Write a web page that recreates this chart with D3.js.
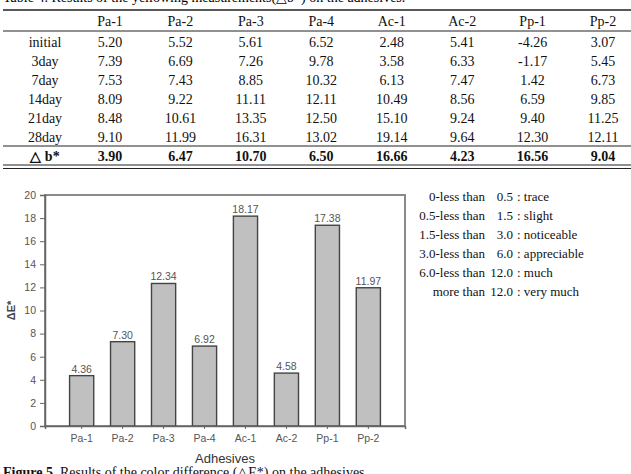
<!DOCTYPE html>
<html>
<head>
<meta charset="utf-8">
<script src="https://cdn.jsdelivr.net/npm/d3@7"></script>
<style>
  body { margin: 0; background: #fff; }
  svg { display: block; }
</style>
</head>
<body>
<script>
// table data
const adhesives = ["Pa-1", "Pa-2", "Pa-3", "Pa-4", "Ac-1", "Ac-2", "Pp-1", "Pp-2"];
const periods = ["initial", "3day", "7day", "14day", "21day", "28day"];
const yellowing = [
  ["5.20", "5.52", "5.61", "6.52", "2.48", "5.41", "-4.26", "3.07"],
  ["7.39", "6.69", "7.26", "9.78", "3.58", "6.33", "-1.17", "5.45"],
  ["7.53", "7.43", "8.85", "10.32", "6.13", "7.47", "1.42", "6.73"],
  ["8.09", "9.22", "11.11", "12.11", "10.49", "8.56", "6.59", "9.85"],
  ["8.48", "10.61", "13.35", "12.50", "15.10", "9.24", "9.40", "11.25"],
  ["9.10", "11.99", "16.31", "13.02", "19.14", "9.64", "12.30", "12.11"]
];
const deltaB = ["3.90", "6.47", "10.70", "6.50", "16.66", "4.23", "16.56", "9.04"];

// chart data
const deltaE = [4.36, 7.30, 12.34, 6.92, 18.17, 4.58, 17.38, 11.97];
const yTicks = [0, 2, 4, 6, 8, 10, 12, 14, 16, 18, 20];

// colour difference scale
const legendRows = [
  ["0-less than", "0.5", "trace"],
  ["0.5-less than", "1.5", "slight"],
  ["1.5-less than", "3.0", "noticeable"],
  ["3.0-less than", "6.0", "appreciable"],
  ["6.0-less than", "12.0", "much"],
  ["more than", "12.0", "very much"]
];

const W = 631, H = 474;
const serif = "'Liberation Serif', 'Times New Roman', serif";
const sans = "'Liberation Sans', Arial, sans-serif";

const svg = d3.select("body").append("svg")
  .attr("width", W).attr("height", H);

// ---- table ----
svg.append("text")
  .attr("x", 3).attr("y", 2)
  .style("font-family", serif).style("font-size", "14px")
  .text("Table 4. Results of the yellowing measurements(△b*) on the adhesives.");

const colX = d3.scalePoint().domain(adhesives).range([110, 603]);
const rowY = d3.scalePoint().domain(periods).range([42, 137]);
const labelX = 45;

const rule = (y, w) => svg.append("line")
  .attr("x1", 3).attr("x2", W).attr("y1", y).attr("y2", y)
  .attr("stroke", "#222").attr("stroke-width", w);

rule(10, 1.6);
rule(31, 1);
rule(146, 1);
rule(165, 1.2);
rule(168.5, 1.2);

const tbl = svg.append("g")
  .style("font-family", serif).style("font-size", "14px").attr("fill", "#111");

tbl.selectAll(".hdr").data(adhesives).join("text")
  .attr("x", d => colX(d)).attr("y", 26)
  .attr("text-anchor", "middle").text(d => d);

periods.forEach((p, i) => {
  tbl.append("text").attr("x", labelX).attr("y", rowY(p) + 5)
    .attr("text-anchor", "middle").text(p);
  tbl.selectAll(null).data(yellowing[i]).join("text")
    .attr("x", (d, j) => colX(adhesives[j])).attr("y", rowY(p) + 5)
    .attr("text-anchor", "middle").text(d => d);
});

tbl.append("text").attr("x", labelX).attr("y", 161)
  .attr("text-anchor", "middle").style("font-weight", "bold").text("△ b*");
tbl.selectAll(".db").data(deltaB).join("text")
  .attr("x", (d, j) => colX(adhesives[j])).attr("y", 161)
  .attr("text-anchor", "middle").style("font-weight", "bold").text(d => d);

// ---- bar chart ----
const plot = { left: 45, right: 405, top: 195, bottom: 426 };

const x = d3.scaleBand().domain(adhesives)
  .range([plot.left, plot.right]).paddingInner(0.41).paddingOuter(0.6);
const y = d3.scaleLinear().domain([0, 20]).range([plot.bottom, plot.top]);

const chart = svg.append("g").style("font-family", sans);

// frame
chart.append("rect")
  .attr("x", plot.left).attr("y", plot.top)
  .attr("width", plot.right - plot.left).attr("height", plot.bottom - plot.top)
  .attr("fill", "none").attr("stroke", "#8a8a8a").attr("stroke-width", 2);

chart.selectAll(".bar").data(deltaE).join("rect")
  .attr("x", (d, i) => x(adhesives[i]))
  .attr("y", d => y(d))
  .attr("width", x.bandwidth())
  .attr("height", d => y(0) - y(d))
  .attr("fill", "#c0c0c0").attr("stroke", "#444").attr("stroke-width", 1.4);

chart.selectAll(".val").data(deltaE).join("text")
  .attr("x", (d, i) => x(adhesives[i]) + x.bandwidth() / 2)
  .attr("y", d => y(d) - 3)
  .attr("text-anchor", "middle")
  .style("font-size", "10.5px").attr("fill", "#555")
  .text(d => d.toFixed(2));

const yAxis = chart.append("g")
  .attr("transform", `translate(${plot.left},0)`)
  .call(d3.axisLeft(y).tickValues(yTicks).tickSize(5).tickPadding(4));
yAxis.select(".domain").attr("stroke", "#666").attr("stroke-width", 1.5);
yAxis.selectAll(".tick line").attr("stroke", "#666");
yAxis.selectAll(".tick text").style("font-size", "10.5px").attr("fill", "#555")
  .style("font-family", sans);

const xAxis = chart.append("g")
  .attr("transform", `translate(0,${plot.bottom})`)
  .call(d3.axisBottom(x).tickSize(3).tickPadding(6));
xAxis.select(".domain").attr("stroke", "#666").attr("stroke-width", 1.5);
xAxis.selectAll(".tick line").attr("stroke", "#666");
xAxis.selectAll(".tick text").style("font-size", "10.5px").attr("fill", "#555")
  .style("font-family", sans);

chart.append("text")
  .attr("x", 225).attr("y", 463)
  .attr("text-anchor", "middle")
  .style("font-size", "13px").attr("fill", "#333")
  .text("Adhesives");

chart.append("text")
  .attr("transform", `translate(15,${(plot.top + plot.bottom) / 2}) rotate(-90)`)
  .attr("text-anchor", "middle")
  .style("font-size", "11px").style("font-weight", "bold").attr("fill", "#444")
  .text("ΔE*");

// ---- legend ----
const leg = svg.append("g")
  .style("font-family", serif).style("font-size", "13px").attr("fill", "#111");
const legY = d3.scalePoint().domain(d3.range(legendRows.length)).range([201, 296]);

leg.selectAll(".a").data(legendRows).join("text")
  .attr("x", 485).attr("y", (d, i) => legY(i))
  .attr("text-anchor", "end").text(d => d[0]);
leg.selectAll(".b").data(legendRows).join("text")
  .attr("x", 513).attr("y", (d, i) => legY(i))
  .attr("text-anchor", "end").text(d => d[1]);
leg.selectAll(".c").data(legendRows).join("text")
  .attr("x", 517).attr("y", (d, i) => legY(i))
  .text(d => ": " + d[2]);

// ---- caption ----
const cap = svg.append("text")
  .attr("x", 3).attr("y", 477)
  .style("font-family", serif).style("font-size", "14px").attr("fill", "#111");
cap.append("tspan").style("font-weight", "bold").text("Figure 5.");
cap.append("tspan").text(" Results of the color difference (△E*) on the adhesives.");
</script>
</body>
</html>
